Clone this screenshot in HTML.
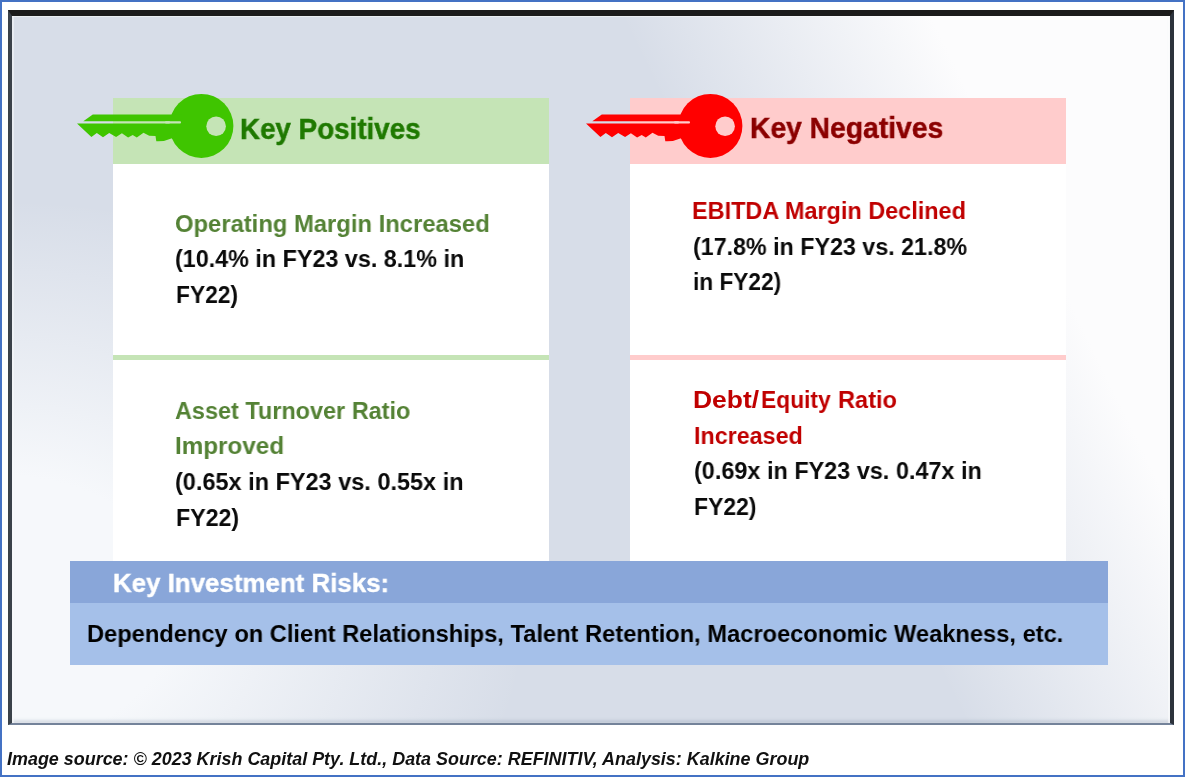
<!DOCTYPE html>
<html><head><meta charset="utf-8"><title>Key Positives and Negatives</title>
<style>
html,body{margin:0;padding:0;}
body{width:1185px;height:777px;position:relative;overflow:hidden;background:#fff;font-family:"Liberation Sans",sans-serif;}
.outer{position:absolute;left:0;top:0;width:1181px;height:773px;border:2px solid #4472c4;}
.frame{position:absolute;left:8px;top:10px;width:1166px;height:715px;box-sizing:border-box;
 border-style:solid;border-color:#1b1b1b #2d333c #74839a #3a4149;border-width:6px 4px 2px 4px;
 background:
  linear-gradient(64deg,rgba(252,252,253,0) 63.4%,rgba(252,252,253,1) 84.1%),
  radial-gradient(ellipse 519px 409px at -4px 593px,rgba(246,248,251,1) 32.4%,rgba(246,248,251,0) 100%),
  #d7dde8;
 box-shadow:inset 2px 0 1px rgba(255,255,255,.5),inset -2px 0 1px rgba(255,255,255,.6),inset 0 1px 1px rgba(255,255,255,.45),inset 0 -3px 3px rgba(116,131,154,.22);}
.box{position:absolute;}
.t{position:absolute;white-space:nowrap;font-weight:bold;line-height:1;transform-origin:0 50%;will-change:transform;}
svg{position:absolute;left:0;top:0;}
</style></head><body>
<div class="outer"></div>
<div class="frame"></div>
<!-- left panel -->
<div class="box" style="left:112.5px;top:164px;width:436px;height:398px;background:#fff"></div>
<div class="box" style="left:112.5px;top:97.6px;width:436px;height:66.4px;background:#c5e4b6"></div>
<div class="box" style="left:112.5px;top:354.5px;width:436px;height:5.5px;background:#c5e4b6"></div>
<!-- right panel -->
<div class="box" style="left:630px;top:164px;width:435.5px;height:398px;background:#fff"></div>
<div class="box" style="left:630px;top:97.5px;width:435.5px;height:66.5px;background:#ffcccc"></div>
<div class="box" style="left:630px;top:354.5px;width:435.5px;height:5.5px;background:#ffcccc"></div>
<!-- risks bar -->
<div class="box" style="left:70.3px;top:561.4px;width:1037.6px;height:41.4px;background:#89a6d9"></div>
<div class="box" style="left:70.3px;top:602.8px;width:1037.6px;height:61.8px;background:#a5c0e9"></div>
<svg width="1185" height="777" viewBox="0 0 1185 777">
<g fill="#3fc500">
<circle cx="201.4" cy="125.9" r="32"/>
<path d="M92.8 114.6 L83.3 121.2 L182 121.2 L182 114.6 Z"/>
<path d="M77 123.5 L91.4 137 L96.8 133 L103 137.2 L109.2 133 L116.1 137 L121.9 133.2 L128.1 137.4 L132.7 134.9 L136.8 137.4 L143.5 132.8 L149.2 135.8 L155.5 136 L156.3 141.3 Q164 141.8 172 138.2 L185 123.5 Z"/>
</g>
<rect x="165" y="121.2" width="16" height="2.3" rx="1" fill="#c5e4b6"/>
<circle cx="216.1" cy="126.2" r="9.8" fill="#c5e4b6"/>
<g fill="#ff0000" transform="translate(509,0)">
<circle cx="201.4" cy="125.9" r="32"/>
<path d="M92.8 114.6 L83.3 121.2 L182 121.2 L182 114.6 Z"/>
<path d="M77 123.5 L91.4 137 L96.8 133 L103 137.2 L109.2 133 L116.1 137 L121.9 133.2 L128.1 137.4 L132.7 134.9 L136.8 137.4 L143.5 132.8 L149.2 135.8 L155.5 136 L156.3 141.3 Q164 141.8 172 138.2 L185 123.5 Z"/>
</g>
<rect x="674" y="121.2" width="16" height="2.3" rx="1" fill="#ffcccc"/>
<circle cx="725.1" cy="126.2" r="9.8" fill="#ffcccc"/>

</svg>
<div class="t" style="left:175.22px;top:211.60px;font-size:24.4px;color:#548235;transform:scaleX(0.9757)">Operating Margin Increased</div>
<div class="t" style="left:175.08px;top:247.10px;font-size:24.4px;color:#0a0a0a;transform:scaleX(0.9565)">(10.4% in FY23 vs. 8.1% in</div>
<div class="t" style="left:175.55px;top:283.00px;font-size:24.4px;color:#0a0a0a;transform:scaleX(0.9340)">FY22)</div>
<div class="t" style="left:175.06px;top:398.60px;font-size:24.4px;color:#548235;transform:scaleX(0.9611)">Asset Turnover Ratio</div>
<div class="t" style="left:175.35px;top:434.40px;font-size:24.4px;color:#548235;transform:scaleX(0.9934)">Improved</div>
<div class="t" style="left:175.07px;top:470.20px;font-size:24.4px;color:#0a0a0a;transform:scaleX(0.9630)">(0.65x in FY23 vs. 0.55x in</div>
<div class="t" style="left:175.52px;top:505.90px;font-size:24.4px;color:#0a0a0a;transform:scaleX(0.9497)">FY22)</div>
<div class="t" style="left:692.11px;top:199.00px;font-size:24.4px;color:#c00000;transform:scaleX(0.9608)">EBITDA Margin Declined</div>
<div class="t" style="left:692.78px;top:234.70px;font-size:24.4px;color:#0a0a0a;transform:scaleX(0.9535)">(17.8% in FY23 vs. 21.8%</div>
<div class="t" style="left:692.91px;top:270.40px;font-size:24.4px;color:#0a0a0a;transform:scaleX(0.9294)">in FY22)</div>
<div class="t" style="left:693.40px;top:387.80px;font-size:24.4px;color:#c00000;transform:scaleX(1.0842)">Debt/</div>
<div class="t" style="left:760.65px;top:387.80px;font-size:24.4px;color:#c00000;transform:scaleX(0.9354)">Equity</div>
<div class="t" style="left:837.89px;top:387.80px;font-size:24.4px;color:#c00000;transform:scaleX(0.9678)">Ratio</div>
<div class="t" style="left:693.62px;top:423.60px;font-size:24.4px;color:#c00000;transform:scaleX(0.9548)">Increased</div>
<div class="t" style="left:694.27px;top:459.40px;font-size:24.4px;color:#0a0a0a;transform:scaleX(0.9606)">(0.69x in FY23 vs. 0.47x in</div>
<div class="t" style="left:693.64px;top:495.20px;font-size:24.4px;color:#0a0a0a;transform:scaleX(0.9403)">FY22)</div>
<div class="t" style="left:239.65px;top:113.62px;font-size:30.0px;color:#1f7900;-webkit-text-stroke:0.5px #1f7900;transform:scaleX(0.9253)">Key Positives</div>
<div class="t" style="left:750.27px;top:113.38px;font-size:30.0px;color:#8b0000;-webkit-text-stroke:0.5px #8b0000;transform:scaleX(0.9420)">Key Negatives</div>
<div class="t" style="left:112.98px;top:569.85px;font-size:26.4px;color:#ffffff;-webkit-text-stroke:0.4px #ffffff;transform:scaleX(0.9806)">Key Investment Risks:</div>
<div class="t" style="left:87.19px;top:622.10px;font-size:24px;color:#000000;transform:scaleX(0.9862)">Dependency on Client Relationships, Talent Retention, Macroeconomic Weakness, etc.</div>
<div class="t" style="left:7.21px;top:751.40px;font-size:17.5px;color:#111111;font-style:italic;transform:scaleX(1.0245)">Image source: © 2023 Krish Capital Pty. Ltd., Data Source: REFINITIV, Analysis: Kalkine Group</div>
</body></html>
